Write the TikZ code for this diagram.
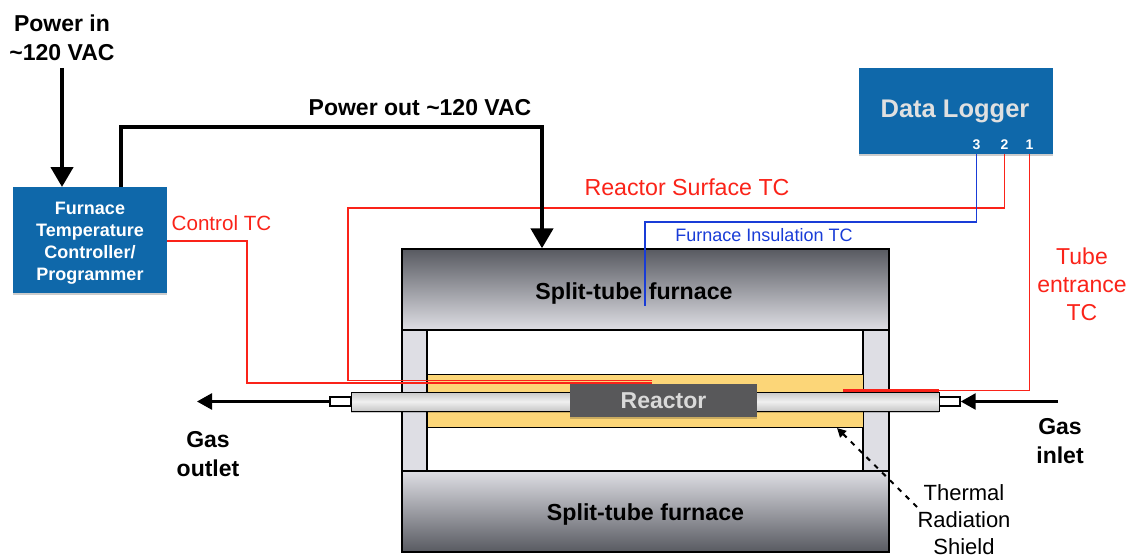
\documentclass[tikz,border=0pt]{standalone}
\usepackage{fontspec}
\setmainfont{Liberation Sans}
\usetikzlibrary{arrows.meta,positioning,calc,shadows}
\definecolor{blueBox}{RGB}{15,104,170}
\definecolor{greyShield}{RGB}{222,222,228}
\definecolor{yellowShield}{RGB}{252,214,120}
\definecolor{greyReactor}{RGB}{88,88,90}
\definecolor{redTC}{RGB}{250,35,25}
\definecolor{blueTC}{RGB}{25,60,215}
\definecolor{DarkFurnace}{RGB}{88,90,97}
\definecolor{PaleFurnace}{RGB}{222,222,228}
\newcommand{\tildeb}{\char126\relax}
\tikzset{
  boxshadow/.style={drop shadow={shadow xshift=0pt,shadow yshift=-1.5pt,fill=black,opacity=0.2}},
  bluebox/.style={fill=blueBox,inner sep=0pt,boxshadow},
  furnace/.style={draw=black,line width=1.4pt,inner sep=0pt},
  pillar/.style={draw=black,line width=1.4pt,fill=greyShield,inner sep=0pt},
  stub/.style={draw=black,line width=1.4pt,fill=white,inner sep=0pt},
  power/.style={line width=4.4pt,-{Triangle[length=20pt,width=22pt]}},
  gas/.style={line width=2.6pt,-{Triangle[length=15pt,width=16pt]}},
  tcred/.style={redTC,line width=1.7pt},
  tcblue/.style={blueTC,line width=1.7pt},
  portlab/.style={text=white,font=\bfseries\fontsize{14}{14}\selectfont,inner sep=0pt,anchor=south},
  lab/.style={font=\bfseries\fontsize{23}{28.5}\selectfont,align=center},
  furnacelab/.style={font=\bfseries\fontsize{23.2}{23}\selectfont},
  redlab/.style={text=redTC,font=\fontsize{23.2}{28}\selectfont,align=center}
}
\begin{document}
\begin{tikzpicture}[x=1pt,y=-1pt]
  \useasboundingbox (0,0) rectangle (1129,559);
  % furnace and shields
  \node[furnace,top color=DarkFurnace,bottom color=PaleFurnace,minimum width=487pt,minimum height=81pt] (topfurnace) at (645.5,289.5) {};
  \node[furnace,top color=PaleFurnace,bottom color=DarkFurnace,minimum width=487pt,minimum height=81pt] (botfurnace) at (645.5,511.5) {};
  \node[pillar,minimum width=25pt,minimum height=141pt] (leftpillar) at (414.5,400.5) {};
  \node[pillar,minimum width=26pt,minimum height=141pt] (rightpillar) at (876,400.5) {};
  \node[draw=black,line width=0.8pt,fill=yellowShield,inner sep=0pt,minimum width=436pt,minimum height=53pt] (shield) at (645,400.5) {};
  \node[stub,minimum width=21pt,minimum height=9pt] (outstub) at (340.5,401.5) {};
  \node[stub,minimum width=21pt,minimum height=9pt] (instub) at (949.5,401.5) {};
  \node[draw=black,line width=1pt,inner sep=0pt,top color=black!22,bottom color=black!22,middle color=black!6,minimum width=588pt,minimum height=19pt,boxshadow] (tube) at (645,401.5) {};
  \node[fill=greyReactor,inner sep=0pt,minimum width=187pt,minimum height=33pt,text=black!15,font=\bfseries\fontsize{23}{23}\selectfont,boxshadow] (reactor) at (663.5,400.5) {Reactor};
  % boxes
  \node[bluebox,minimum width=194pt,minimum height=86pt] (logger) at (956,111) {};
  \node[text=black!12,font=\bfseries\fontsize{25.5}{25.5}\selectfont] (loggerlab) at (955,111) {Data Logger};
  \node[bluebox,minimum width=154pt,minimum height=106pt] (controller) at (90,240) {};
  \node[text=white,font=\bfseries\fontsize{18}{22}\selectfont,align=center] (controllerlab) at (90,243) {Furnace\\Temperature\\Controller/\\Programmer};
  \node[portlab] (port3) at (976.5,150) {3};
  \node[portlab] (port2) at (1004.5,150) {2};
  \node[portlab] (port1) at (1029.5,150) {1};
  % free ends of the thermocouples
  \coordinate (controlend) at (652,383);
  \coordinate (surfaceend) at (652,380.5);
  \coordinate (insulend) at (645,306);
  \coordinate (entranceend) at (843,390.5);
  \coordinate (powerstart) at (62,68);
  \coordinate (gasinstart) at (1058,401.5);
  \coordinate (gasoutend) at (197,401.5);
  \coordinate (shieldstart) at (917,507);
  \coordinate (shieldend) at (837,428);
  % thermocouples
  \draw[tcred] (controller.east |- 0,241) -- (247,241) -- (247,383) -- (controlend);
  \draw[tcred] (logger.south -| port2) -- (1004.5,208) -- (348,208) -- (348,380.5) -- (surfaceend);
  \draw[tcblue] (logger.south -| port3) -- (976.5,222) -- (645,222) -- (insulend);
  \draw[tcred] (logger.south -| port1) -- (1029.5,390.5) -- (entranceend);
  \draw[redTC,line width=2.4pt] (939,390.5) -- (entranceend);
  % power and gas
  \draw[power] (powerstart) -- (62,187);
  \draw[power] (121,187) -- (121,127) -- (542,127) -- (topfurnace.north -| 542,0);
  \draw[gas] (gasinstart) -- (instub.east);
  \draw[gas] (outstub.west) -- (gasoutend);
  \draw[line width=2pt,dash pattern=on 5pt off 6pt,-{Triangle[length=9pt,width=9pt]}] (shieldstart) -- (shieldend);
  % labels
  \node[lab] (powerin) at (62,38) {Power in\\\tildeb120 VAC};
  \node[lab] (powerout) at (420,108) {Power out \tildeb120 VAC};
  \node[lab] (gasout) at (208,454) {Gas\\outlet};
  \node[lab] (gasin) at (1060,441) {Gas\\inlet};
  \node[furnacelab] (toplabel) at (634,293) {Split-tube furnace};
  \node[furnacelab] (botlabel) at (645.5,514) {Split-tube furnace};
  \node[text=redTC,font=\fontsize{20.6}{20.6}\selectfont] (controltc) at (221.5,223) {Control TC};
  \node[redlab] (surfacetc) at (687,187) {Reactor Surface TC};
  \node[text=redTC,font=\fontsize{23}{28}\selectfont,align=center] (entrancetc) at (1082,284) {Tube\\entrance\\TC};
  \node[text=blueTC,font=\fontsize{18}{18}\selectfont] (insultc) at (764,235) {Furnace Insulation TC};
  \node[inner sep=0pt,font=\fontsize{22}{27}\selectfont,align=center] (shieldtc) at (964,520) {Thermal\\Radiation\\Shield};
\end{tikzpicture}
\end{document}
